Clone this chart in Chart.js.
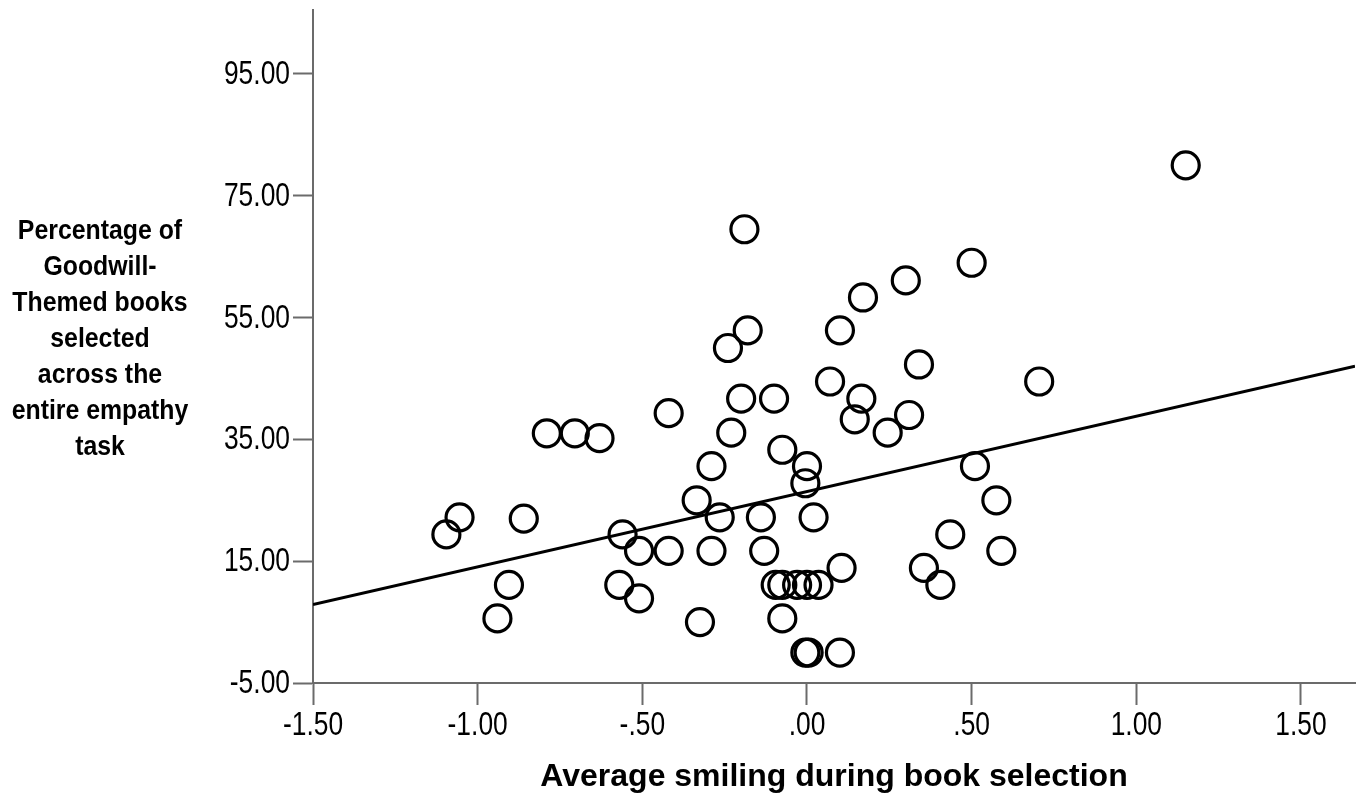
<!DOCTYPE html>
<html>
<head>
<meta charset="utf-8">
<script src="https://cdn.jsdelivr.net/npm/chart.js@4.4.1/dist/chart.umd.min.js"></script>
<style>
  html, body { margin: 0; padding: 0; background: #fff; }
  #wrap { position: relative; width: 1360px; height: 802px; }
  #yTitle {
    position: absolute; left: 0; top: 212px; width: 200px;
    font-family: 'Liberation Sans', Arial, sans-serif; font-weight: bold;
    font-size: 27px; line-height: 36px; text-align: center; color: #000;
  }
  #yTitle div { transform: scaleX(0.92); transform-origin: 100px 0; white-space: nowrap; }
</style>
</head>
<body>
<div id="wrap">
  <canvas id="chart" width="1360" height="802"></canvas>
  <div id="yTitle">
    <div>Percentage of</div><div>Goodwill-</div><div>Themed books</div><div>selected</div>
    <div>across the</div><div>entire empathy</div><div>task</div>
  </div>
</div>
<script>
// smiling score per participant
const smiling = [
  1.15, -0.19, 0.50, 0.30, 0.17, -0.18, 0.10, -0.24, 0.34, 0.07,
  0.705, -0.20, -0.10, 0.165, -0.42, 0.31, 0.145, -0.79, -0.705, -0.63,
  -0.23, 0.245, -0.075, -0.29, 0.0, 0.51, -0.005, -0.335, 0.575, -1.055,
  -0.86, -0.265, -0.14, 0.02, -1.095, -0.56, 0.435, -0.51, -0.42, -0.29,
  -0.13, 0.59, 0.105, 0.355, -0.905, -0.57, -0.51, -0.095, -0.075, -0.03,
  0.0, 0.035, 0.405, -0.075, -0.94, -0.325, -0.005, 0.005, 0.10
];
// % goodwill-themed books selected
const goodwill = [
  80.0, 69.5, 64.0, 61.1, 58.3, 52.9, 52.9, 50.0, 47.3, 44.5,
  44.5, 41.7, 41.7, 41.7, 39.3, 39.0, 38.3, 36.0, 36.0, 35.2,
  36.1, 36.1, 33.3, 30.6, 30.6, 30.6, 27.8, 25.0, 25.0, 22.2,
  22.0, 22.2, 22.2, 22.2, 19.4, 19.4, 19.4, 16.7, 16.7, 16.7,
  16.7, 16.7, 13.9, 13.9, 11.1, 11.1, 8.9, 11.1, 11.1, 11.1,
  11.1, 11.1, 11.1, 5.6, 5.6, 5.0, 0.0, 0.0, 0.0
];
// fit line end points
const fitX = [-1.5, 1.664];
const fitY = [7.9, 47.0];

const xTicks = [-1.5, -1.0, -0.5, 0, 0.5, 1.0, 1.5];
const xTickLabels = ['-1.50', '-1.00', '-.50', '.00', '.50', '1.00', '1.50'];
const yTicks = [-5, 15, 35, 55, 75, 95];
const yTickLabels = ['-5.00', '15.00', '35.00', '55.00', '75.00', '95.00'];

const axisGray = '#6b6b6b';

const points = smiling.map((x, i) => ({ x: x, y: goodwill[i] }));
const fitLine = fitX.map((x, i) => ({ x: x, y: fitY[i] }));

// SPSS-style narrow tick labels, placed from the chart's own scales
const narrowLabels = {
  id: 'narrowLabels',
  afterDraw(chart) {
    const ctx = chart.ctx;
    const xs = chart.scales.x, ys = chart.scales.y;
    ctx.save();
    ctx.fillStyle = '#000';
    ctx.font = '33px "Liberation Sans", Arial, sans-serif';
    ctx.textBaseline = 'middle';
    xTicks.forEach((v, i) => {
      ctx.save();
      ctx.translate(xs.getPixelForValue(v), xs.top + 43);
      ctx.scale(0.8, 1);
      ctx.textAlign = 'center';
      ctx.fillText(xTickLabels[i], 0, 0);
      ctx.restore();
    });
    yTicks.forEach((v, i) => {
      ctx.save();
      ctx.translate(ys.right - 23, ys.getPixelForValue(v) + 1);
      ctx.scale(0.8, 1);
      ctx.textAlign = 'right';
      ctx.fillText(yTickLabels[i], 0, 0);
      ctx.restore();
    });
    ctx.restore();
  }
};

new Chart(document.getElementById('chart'), {
  type: 'scatter',
  data: {
    datasets: [
      {
        type: 'line',
        data: fitLine,
        borderColor: '#000',
        borderWidth: 3,
        pointRadius: 0,
        fill: false
      },
      {
        data: points,
        pointStyle: 'circle',
        pointRadius: 13.5,
        pointBorderWidth: 3.2,
        pointBackgroundColor: 'rgba(0,0,0,0)',
        pointBorderColor: '#000'
      }
    ]
  },
  options: {
    responsive: false,
    animation: false,
    events: [],
    layout: { autoPadding: false, padding: { left: 0, top: 10, right: 5, bottom: 0 } },
    plugins: { legend: { display: false }, tooltip: { enabled: false } },
    scales: {
      x: {
        type: 'linear',
        min: -1.5,
        max: 1.664,
        afterBuildTicks: axis => { axis.ticks = xTicks.map(v => ({ value: v })); },
        afterFit: axis => { axis.height = 119; },
        border: { display: true, color: axisGray, width: 2 },
        grid: { drawOnChartArea: false, drawTicks: true, tickLength: 22, tickColor: axisGray, tickWidth: 2 },
        ticks: { display: false },
        title: {
          display: true,
          text: 'Average smiling during book selection',
          color: '#000',
          font: { family: "'Liberation Sans', Arial, sans-serif", size: 32, weight: 'bold' },
          padding: { top: 4, bottom: 6 }
        }
      },
      y: {
        type: 'linear',
        min: -5,
        max: 105.5,
        afterBuildTicks: axis => { axis.ticks = yTicks.map(v => ({ value: v })); },
        afterFit: axis => { axis.width = 313; },
        border: { display: true, color: axisGray, width: 2 },
        grid: { drawOnChartArea: false, drawTicks: true, tickLength: 20, tickColor: axisGray, tickWidth: 2 },
        ticks: { display: false }
      }
    }
  },
  plugins: [narrowLabels]
});
</script>
</body>
</html>
